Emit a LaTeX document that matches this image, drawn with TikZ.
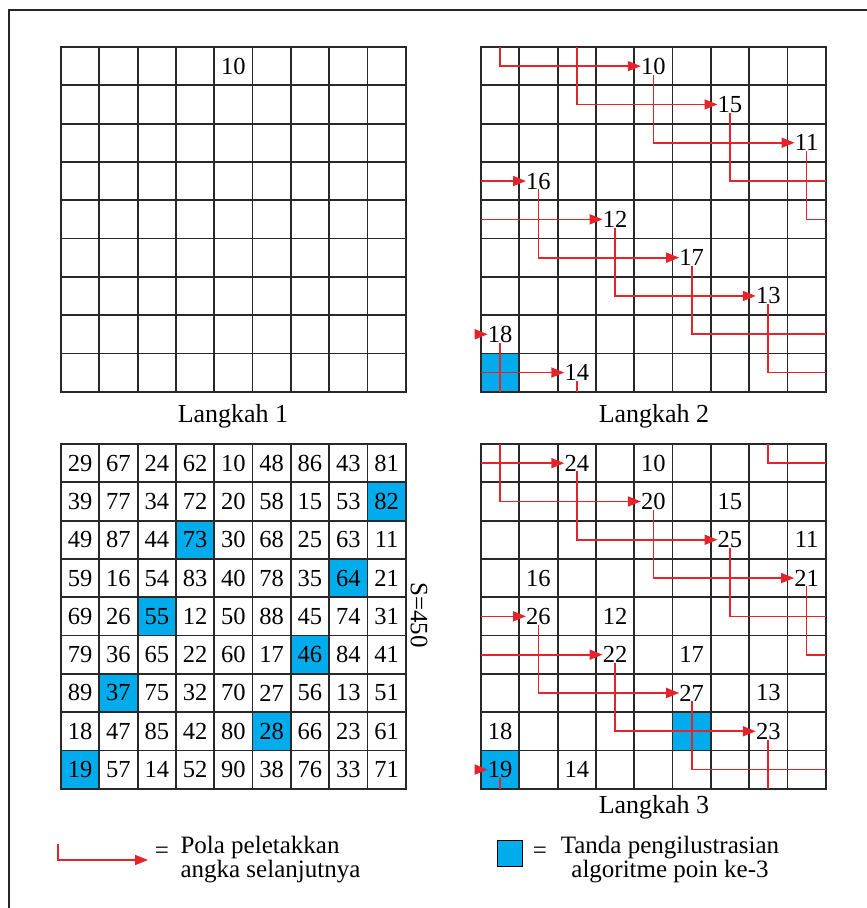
\documentclass[tikz,border=0pt]{standalone}
\usepackage{fontspec}
\setmainfont{Liberation Serif}
\usetikzlibrary{arrows.meta}
\definecolor{ArrRed}{RGB}{228,36,42}
\definecolor{MarkBlue}{RGB}{0,172,236}
\definecolor{GridGray}{RGB}{40,40,40}
% 9x9 cell grid with edge coordinates, #1 = name prefix
\newcommand{\cellgrid}[1]{%
  \foreach \i in {0,...,9}{\draw[gridline] (\i,0) -- (\i,9); \draw[gridline] (0,\i) -- (9,\i);}
  \foreach \i in {1,...,9}{\coordinate (#1L\i) at (0,\i-.5); \coordinate (#1R\i) at (9,\i-.5);
    \coordinate (#1T\i) at (\i-.5,0); \coordinate (#1B\i) at (\i-.5,9);}}
\begin{document}
\begin{tikzpicture}[x=1pt,y=-1pt,
  gridline/.style={draw=GridGray,line width=1.8pt,line cap=rect},
  num/.style={inner sep=0pt,font=\fontsize{24.5}{26}\selectfont},
  route/.style={draw=ArrRed,line width=1.7pt},
  tip/.style={route,-{Triangle[length=13pt,width=10pt]}},
  bluecell/.style={fill=MarkBlue},
  steplabel/.style={font=\fontsize{26}{28}\selectfont,anchor=base},
  legtext/.style={font=\fontsize{25}{22}\selectfont}]
\useasboundingbox (0,0) rectangle (867,908);
\draw[line width=2.4pt,black!85] (9,908) -- (9,10) -- (867,10);

% Langkah 1
\begin{scope}[shift={(61,47)},x=38.3pt,y=-38.3pt]
\cellgrid{a}
\node[num] (a10) at (4.5,.5) {10};
\end{scope}

% Langkah 2
\begin{scope}[shift={(481,47)},x=38.3pt,y=-38.3pt]
\fill[bluecell] (0,8) rectangle (1,9);
\cellgrid{b}
\foreach \v/\c/\r in {10/5/1,15/7/2,11/9/3,16/2/4,12/4/5,17/6/6,13/8/7,18/1/8,14/3/9}
  \node[num] (b\v) at (\c-.5,\r-.5) {\v};
\draw[tip] (bT1) |- (b10.west);
\draw[tip] (b10.south) |- (b11.west);
\draw[route] (b15.south) |- (bR4); \draw[tip] (bL4) -- (b16.west);
\draw[route] (b11.south) |- (bR5); \draw[tip] (bL5) -- (b12.west);
\draw[tip] (b16.south) |- (b17.west);
\draw[tip] (b12.south) |- (b13.west);
\draw[route] (b17.south) |- (bR8); \draw[tip] (bL8) -- (b18.west);
\draw[route] (b13.south) |- (bR9); \draw[tip] (bL9) -- (b14.west);
\draw[route] (b18.south) -- (bB1);
\draw[route] (b14.south) -- (bB3); \draw[tip] (bT3) |- (b15.west);
\end{scope}

% magic square
\begin{scope}[shift={(61,444)},x=38.3pt,y=-38.3pt]
\foreach \c/\r in {9/2,4/3,8/4,3/5,7/6,2/7,6/8,1/9} \fill[bluecell] (\c-1,\r-1) rectangle (\c,\r);
\cellgrid{c}
\foreach \row [count=\r] in {{29,67,24,62,10,48,86,43,81},{39,77,34,72,20,58,15,53,82},
  {49,87,44,73,30,68,25,63,11},{59,16,54,83,40,78,35,64,21},{69,26,55,12,50,88,45,74,31},
  {79,36,65,22,60,17,46,84,41},{89,37,75,32,70,27,56,13,51},{18,47,85,42,80,28,66,23,61},
  {19,57,14,52,90,38,76,33,71}}
  \foreach \v [count=\c] in \row \node[num] (c\r-\c) at (\c-.5,\r-.5) {\v};
\end{scope}

% Langkah 3
\begin{scope}[shift={(481,444)},x=38.3pt,y=-38.3pt]
\fill[bluecell] (0,8) rectangle (1,9); \fill[bluecell] (5,7) rectangle (6,8);
\cellgrid{d}
\foreach \v/\c/\r in {10/5/1,15/7/2,11/9/3,16/2/4,12/4/5,17/6/6,13/8/7,18/1/8,14/3/9,
  19/1/9,20/5/2,21/9/4,22/4/6,23/8/8,24/3/1,25/7/3,26/2/5,27/6/7}
  \node[num] (d\v) at (\c-.5,\r-.5) {\v};
\draw[route] (d19.south) -- (dB1); \draw[tip] (dT1) |- (d20.west);
\draw[tip] (d20.south) |- (d21.west);
\draw[route] (d21.south) |- (dR6); \draw[tip] (dL6) -- (d22.west);
\draw[tip] (d22.south) |- (d23.west);
\draw[route] (d23.south) -- (dB8); \draw[route] (dT8) |- (dR1); \draw[tip] (dL1) -- (d24.west);
\draw[tip] (d24.south) |- (d25.west);
\draw[route] (d25.south) |- (dR5); \draw[tip] (dL5) -- (d26.west);
\draw[tip] (d26.south) |- (d27.west);
\draw[route] (d27.south) |- (dR9); \draw[tip] (dL9) -- (d19.west);
\end{scope}

\node[steplabel] (lab1) at (233,422) {Langkah 1};
\node[steplabel] (lab2) at (654,422) {Langkah 2};
\node[steplabel] (lab3) at (654,813) {Langkah 3};
\node[font=\fontsize{25}{27}\selectfont,rotate=-90] (sum) at (419,615) {S=450};

% legend
\coordinate (legA) at (58,844); \coordinate (legB) at (148,860);
\draw[tip] (legA) |- (legB);
\node[legtext] (eq1) at (162,853) {=};
\node[legtext,align=left,anchor=base west] (leg1) at (177,877) {Pola peletakkan\\angka selanjutnya};
\node[draw=black,line width=1.2pt,bluecell,minimum width=25pt,minimum height=26pt,inner sep=0pt] (legbox) at (510,853.5) {};
\node[legtext] (eq2) at (540,853) {=};
\node[legtext,align=center,anchor=base] (leg2) at (670,877) {Tanda pengilustrasian\\algoritme poin ke-3};
\end{tikzpicture}
\end{document}
